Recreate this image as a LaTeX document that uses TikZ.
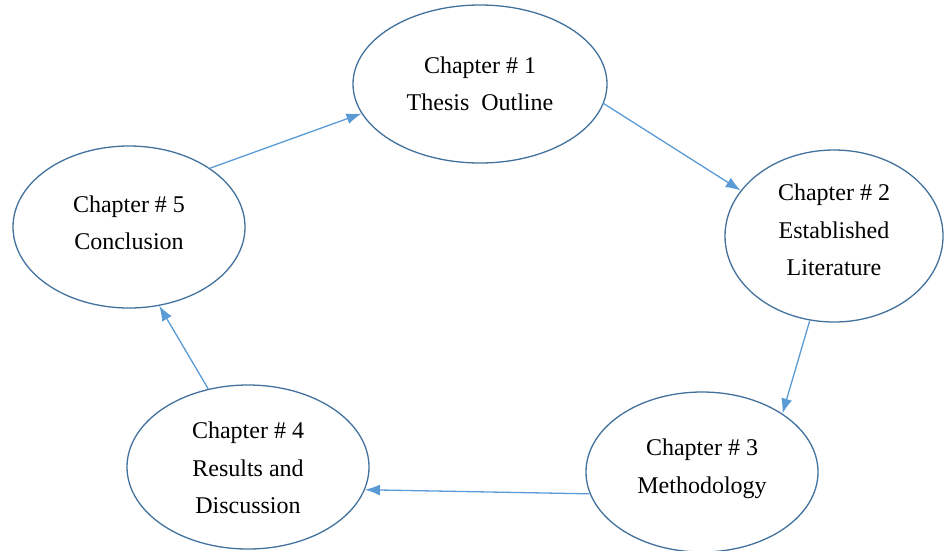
\documentclass[tikz,border=0pt]{standalone}
\usepackage{fontspec}
\setmainfont{Liberation Serif}
\usetikzlibrary{shapes.geometric,arrows.meta}
\definecolor{ellblue}{HTML}{41719C}
\definecolor{arrblue}{HTML}{5B9BD5}
\begin{document}
\begin{tikzpicture}[x=1pt,y=-1pt,
  chap/.style={ellipse,draw=ellblue,line width=1.3pt,inner sep=0pt},
  txt/.style={align=center,inner sep=0pt,font=\fontsize{24}{37.5}\selectfont},
  flow/.style={draw=arrblue,line width=1.3pt,-{Latex[length=15pt,width=11pt]}}]
\useasboundingbox (0,0) rectangle (944,550);
\node[chap,minimum width=254pt,minimum height=158pt] (n1) at (480,84) {};
\node[chap,minimum width=218pt,minimum height=172pt] (n2) at (834,236) {};
\node[chap,minimum width=232pt,minimum height=160pt] (n3) at (702,472) {};
\node[chap,minimum width=242pt,minimum height=164pt] (n4) at (248,467) {};
\node[chap,minimum width=232pt,minimum height=162pt] (n5) at (129,227) {};
\node[txt] (t1) at (480,84) {Chapter \# 1\\Thesis\ \ Outline};
\node[txt] (t2) at (834,230) {Chapter \# 2\\Established\\Literature};
\node[txt] (t3) at (702,469) {Chapter \# 3\\Methodology};
\node[txt] (t4) at (248,468) {Chapter \# 4\\Results and\\Discussion};
\node[txt] (t5) at (129,223) {Chapter \# 5\\Conclusion};
\draw[flow] (n5.36) -- (n1.194);
\draw[flow] (n1.-9) -- (n2.154);
\draw[flow] (n2.254) -- (n3.36);
\draw[flow] (n3.191) -- (n4.-11);
\draw[flow] (n4.117) -- (n5.-69);
\end{tikzpicture}
\end{document}
